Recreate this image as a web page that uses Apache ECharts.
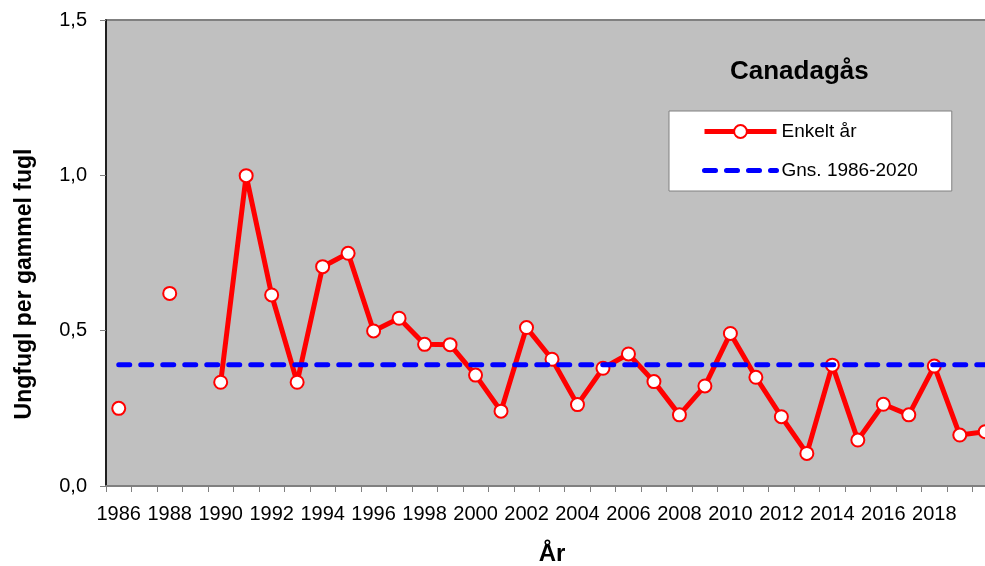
<!DOCTYPE html>
<html>
<head>
<meta charset="utf-8">
<script src="https://cdn.jsdelivr.net/npm/echarts@6/dist/echarts.min.js"></script>
<style>html,body{margin:0;padding:0;background:#fff;overflow:hidden;}#c{width:985px;height:566px;}</style>
</head>
<body>
<div id="c"></div>
<script>
const years = ['1986','1987','1988','1989','1990','1991','1992','1993','1994','1995','1996','1997','1998','1999','2000','2001','2002','2003','2004','2005','2006','2007','2008','2009','2010','2011','2012','2013','2014','2015','2016','2017','2018','2019','2020'];
const singleYear = [0.250, null, 0.620, null, 0.334, 0.999, 0.615, 0.334, 0.706, 0.749, 0.499, 0.540, 0.456, 0.455, 0.357, 0.241, 0.510, 0.408, 0.262, 0.379, 0.425, 0.336, 0.229, 0.322, 0.491, 0.350, 0.223, 0.105, 0.389, 0.148, 0.263, 0.229, 0.386, 0.164, 0.175];
const meanValue = 0.39;
const meanLine = years.map(() => meanValue);
const xTickLabels = ['1986','1988','1990','1992','1994','1996','1998','2000','2002','2004','2006','2008','2010','2012','2014','2016','2018'];
const yTickLabels = ['0,0','0,5','1,0','1,5'];
const seriesNames = ['Enkelt år', 'Gns. 1986-2020'];
const titleText = 'Canadagås';
const xName = 'År';
const yName = 'Ungfugl per gammel fugl';

const FONT = '"Liberation Sans", Arial, sans-serif';
const chart = echarts.init(document.getElementById('c'), null, {renderer: 'canvas'});
chart.setOption({
  animation: false,
  backgroundColor: '#ffffff',
  textStyle: {fontFamily: FONT},
  title: {
    text: titleText,
    left: 730, top: 59, padding: 0,
    textStyle: {fontFamily: FONT, fontSize: 26, fontWeight: 'bold', color: '#000'}
  },
  legend: {
    data: [
      {name: seriesNames[0], lineStyle: {width: 5, color: '#ff0000'}, itemStyle: {color: '#ffffff', borderColor: '#ff0000', borderWidth: 2}},
      {name: seriesNames[1], lineStyle: {width: 5, color: '#0000ff'}, itemStyle: {color: 'rgba(0,0,0,0)', borderWidth: 0, opacity: 0}}
    ],
    orient: 'vertical',
    left: 669, top: 111,
    padding: [11, 34, 11, 33],
    itemWidth: 72, itemHeight: 16, itemGap: 20,
    backgroundColor: '#ffffff',
    borderColor: '#808080', borderWidth: 1,
    borderRadius: 0,
    textStyle: {fontFamily: FONT, fontSize: 19, color: '#000'}
  },
  grid: {
    left: 106, top: 20, right: -13, bottom: 80,
    outerBoundsMode: 'none',
    containLabel: false,
    show: true, backgroundColor: '#c0c0c0', borderColor: '#808080', borderWidth: 2
  },
  xAxis: {
    type: 'category',
    data: years,
    boundaryGap: true,
    name: xName, nameLocation: 'middle', nameGap: 56,
    nameTextStyle: {fontFamily: FONT, fontSize: 24, fontWeight: 'bold', color: '#000'},
    axisLine: {show: true, lineStyle: {color: '#808080', width: 2}},
    axisTick: {show: true, interval: 0, length: 6, lineStyle: {color: '#808080', width: 1}},
    axisLabel: {
      interval: 0, margin: 18,
      fontFamily: FONT, fontSize: 20, color: '#000',
      formatter: (v) => xTickLabels.includes(v) ? v : ''
    },
    splitLine: {show: false}
  },
  yAxis: {
    type: 'value',
    min: 0, max: 1.5, interval: 0.5,
    name: yName, nameLocation: 'middle', nameGap: 70, nameRotate: 90,
    nameTextStyle: {fontFamily: FONT, fontSize: 23, fontWeight: 'bold', color: '#000', padding: [0, 62, 0, 0]},
    axisLine: {show: true, lineStyle: {color: '#000', width: 1.5}},
    axisTick: {show: true, length: 6, lineStyle: {color: '#808080', width: 1}},
    axisLabel: {
      margin: 19, fontFamily: FONT, fontSize: 20, color: '#000',
      formatter: (v) => yTickLabels[Math.round(v / 0.5)]
    },
    splitLine: {show: false}
  },
  series: [
    {
      name: seriesNames[0],
      type: 'line',
      data: singleYear,
      connectNulls: false,
      symbol: 'circle', symbolSize: 13,
      showAllSymbol: true,
      lineStyle: {color: '#ff0000', width: 5},
      itemStyle: {color: '#ffffff', borderColor: '#ff0000', borderWidth: 2},
      z: 2
    },
    {
      name: seriesNames[1],
      type: 'line',
      data: meanLine,
      symbol: 'none',
      lineStyle: {color: '#0000ff', width: 5, type: [11, 11], cap: 'round'},
      itemStyle: {color: '#0000ff'},
      z: 3
    }
  ]
});
</script>
</body>
</html>
